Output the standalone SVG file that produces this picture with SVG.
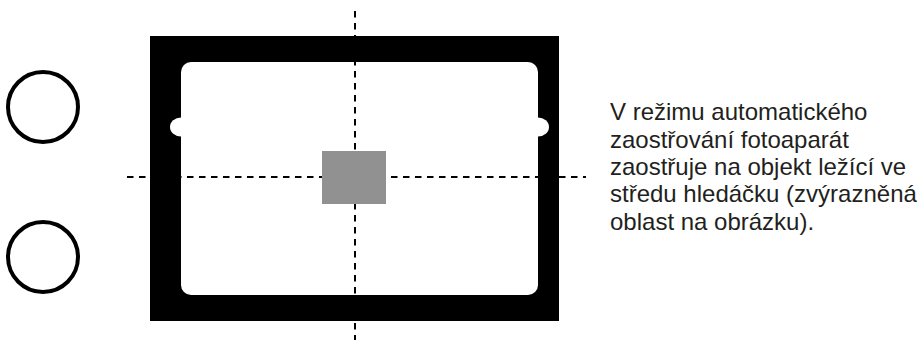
<svg xmlns="http://www.w3.org/2000/svg" width="920" height="340" viewBox="0 0 920 340">
<style>
.ring{fill:none;stroke:#000;stroke-width:4}
.dash{stroke:#000;stroke-width:2;stroke-dasharray:6.5 5.5;fill:none}
.txt{font-family:"Liberation Sans",Arial,sans-serif;font-size:24px;fill:#231f20}
</style>
<rect width="920" height="340" fill="#fff"/>
<g id="button-top"><circle class="ring" cx="43" cy="107" r="35"/></g>
<g id="button-bottom"><circle class="ring" cx="43" cy="257" r="35"/></g>
<g id="viewfinder">
<rect x="150" y="36" width="409" height="285" fill="#000"/>
<rect x="181" y="62" width="357" height="233" rx="10" fill="#fff"/>
<ellipse cx="181" cy="127" rx="11" ry="9.5" fill="#fff"/>
<ellipse cx="538" cy="127" rx="11" ry="9.5" fill="#fff"/>
</g>
<g id="connectors">
<line class="dash" x1="355" y1="11" x2="355" y2="340"/>
<line class="dash" x1="127" y1="177" x2="586" y2="177"/>
</g>
<g id="focus-area"><rect x="322" y="151" width="64" height="53" fill="#919191"/></g>
<g id="caption">
<text class="txt" x="610" y="120">V režimu automatického</text>
<text class="txt" x="610" y="147.5">zaostřování fotoaparát</text>
<text class="txt" x="610" y="175">zaostřuje na objekt ležící ve</text>
<text class="txt" x="610" y="202">středu hledáčku (zvýrazněná</text>
<text class="txt" x="610" y="229.5">oblast na obrázku).</text>
</g>
</svg>
